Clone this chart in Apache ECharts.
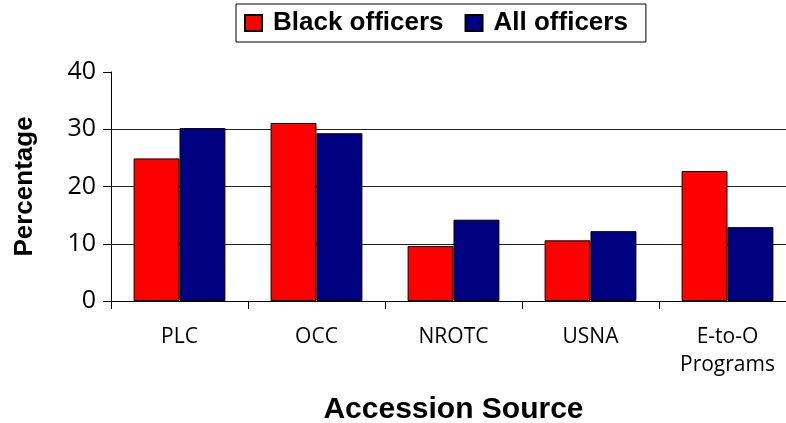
<!DOCTYPE html>
<html>
<head>
<meta charset="utf-8">
<script src="https://cdn.jsdelivr.net/npm/echarts@6/dist/echarts.min.js"></script>
<style>
  html, body { margin: 0; padding: 0; background: #fff; }
  #chart { width: 786px; height: 423px; }
</style>
</head>
<body>
<div id="chart"></div>
<script>
// Accession sources along the x axis
const categories = ['PLC', 'OCC', 'NROTC', 'USNA', 'E-to-O\nPrograms'];
// Share of officers by accession source (%)
const blackOfficers = [24.9, 31.1, 9.6, 10.6, 22.7];
const allOfficers = [30.2, 29.3, 14.2, 12.2, 12.9];
const seriesNames = ['Black officers', 'All officers'];
const yTicks = { min: 0, max: 40, interval: 10 };

const tickFont = 'Open Sans';
const boldFont = 'Liberation Sans';

const chart = echarts.init(document.getElementById('chart'), null, { renderer: 'canvas' });

chart.setOption({
  animation: false,
  backgroundColor: '#fff',
  legend: {
    data: seriesNames,
    icon: 'rect',
    left: 236,
    top: 4,
    padding: [6, 18, 6, 8],
    itemGap: 21,
    itemWidth: 17,
    itemHeight: 16,
    borderColor: '#000',
    borderWidth: 1,
    textStyle: {
      fontFamily: boldFont, fontWeight: 'bold', fontSize: 26, color: '#000',
      padding: [0, 0, 0, 6]
    }
  },
  grid: { left: 111, right: -10, top: 72, bottom: 122, outerBoundsMode: 'none' },
  xAxis: {
    type: 'category',
    data: categories,
    name: 'Accession Source',
    nameLocation: 'middle',
    nameGap: 94,
    nameTextStyle: { fontFamily: boldFont, fontWeight: 'bold', fontSize: 30, color: '#000' },
    axisLine: { lineStyle: { color: '#000', width: 1 } },
    axisTick: { show: true, length: 8, lineStyle: { color: '#000' } },
    axisLabel: { fontFamily: tickFont, fontSize: 21, color: '#000', margin: 22, lineHeight: 28 }
  },
  yAxis: {
    type: 'value',
    min: yTicks.min,
    max: yTicks.max,
    interval: yTicks.interval,
    name: 'Percentage',
    nameLocation: 'middle',
    nameRotate: 90,
    nameGap: 73,
    nameTextStyle: { fontFamily: boldFont, fontWeight: 'bold', fontSize: 26, color: '#000' },
    axisLine: { show: true, lineStyle: { color: '#000', width: 1 } },
    axisTick: { show: true, length: 8, lineStyle: { color: '#000' } },
    axisLabel: { fontFamily: tickFont, fontSize: 25, color: '#000', margin: 15 },
    splitLine: { show: true, showMaxLine: false, lineStyle: { color: '#222', width: 1 } }
  },
  series: [
    {
      name: seriesNames[0],
      type: 'bar',
      data: blackOfficers,
      barGap: '0%',
      barCategoryGap: '33%',
      itemStyle: { color: '#ff0000', borderColor: '#000', borderWidth: 1 }
    },
    {
      name: seriesNames[1],
      type: 'bar',
      data: allOfficers,
      itemStyle: { color: '#000080', borderColor: '#000', borderWidth: 1 }
    }
  ]
});
</script>
</body>
</html>
